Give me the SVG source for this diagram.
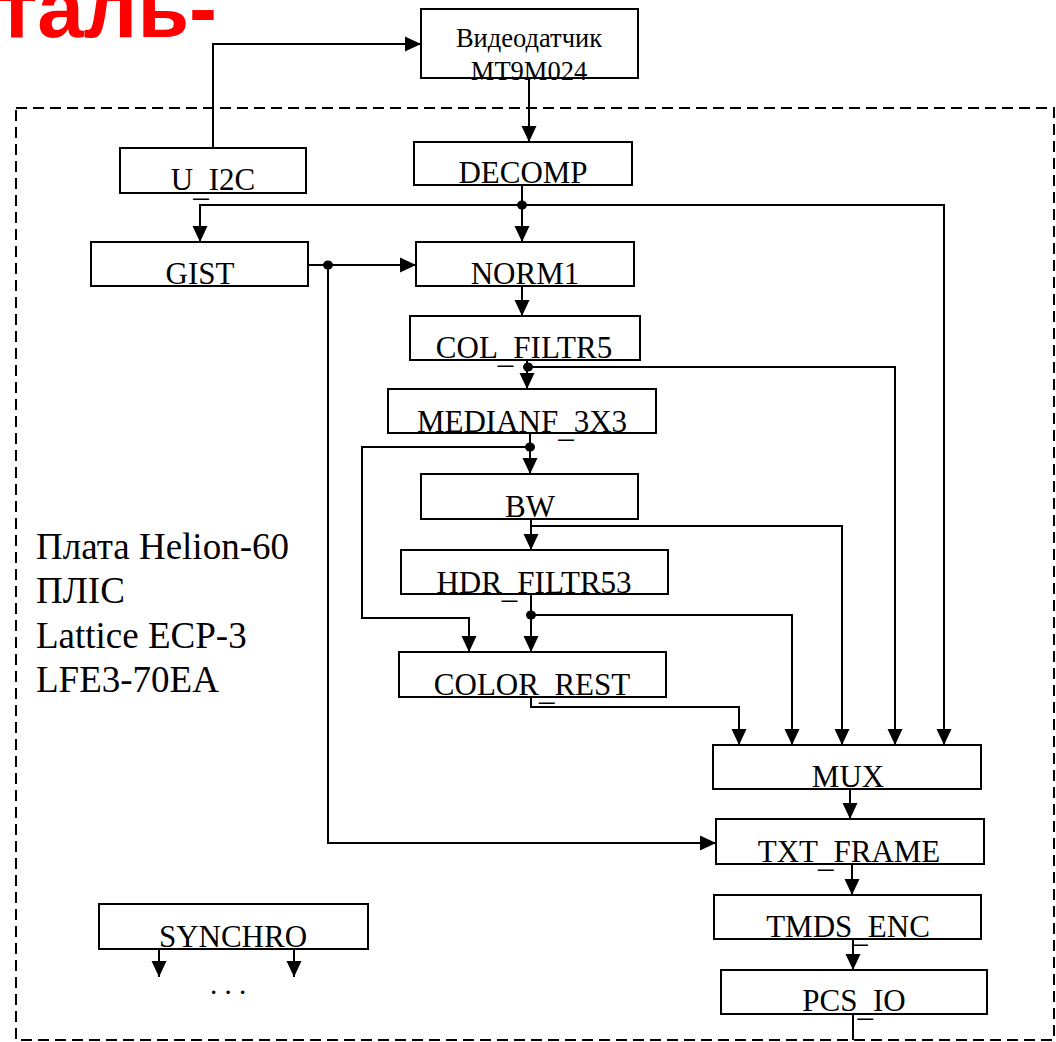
<svg xmlns="http://www.w3.org/2000/svg" width="1056" height="1042" viewBox="0 0 1056 1042">
<style>
.box{fill:#fff;stroke:#000;stroke-width:2}
.lbl{font-family:"Liberation Serif","Times New Roman",serif;font-size:31px;fill:#000;text-anchor:middle}
.sm{font-size:26.5px}
.dots{font-size:29px}
.ln{fill:none;stroke:#000;stroke-width:2}
.arr{fill:none;stroke:#000;stroke-width:2;marker-end:url(#ah)}
.side{font-family:"Liberation Serif","Times New Roman",serif;font-size:37px;fill:#000}
</style>
<defs>
<marker id="ah" markerWidth="17" markerHeight="16" refX="16" refY="8" orient="auto" markerUnits="userSpaceOnUse">
<path d="M0,0.5 L16,8 L0,15.5 Z" fill="#000"/>
</marker>
</defs>
<rect width="1056" height="1042" fill="#fff"/>
<text x="217" y="37" font-family="Liberation Sans,Arial,sans-serif" font-weight="bold" font-size="84" fill="#ff0000" text-anchor="end">таль-</text>
<rect x="16" y="108" width="1038" height="932" fill="none" stroke="#000" stroke-width="2" stroke-dasharray="11,6"/>
<g id="side-text" class="side">
<text x="36" y="559">Плата Helion-60</text>
<text x="36" y="603">ПЛІС</text>
<text x="36" y="648">Lattice ECP-3</text>
<text x="36" y="692">LFE3-70EA</text>
</g>
<g id="connectors">
<path class="arr" d="M213,148 V44 H421"/>
<path class="arr" d="M529,78 V142"/>
<path class="arr" d="M522,185 V242"/>
<path class="arr" d="M522,205 H200 V242"/>
<path class="arr" d="M522,205 H944 V745"/>
<path class="arr" d="M308,265 H416"/>
<path class="arr" d="M328,265 V843 H716"/>
<path class="arr" d="M522,286 V316"/>
<path class="arr" d="M527,360 V389"/>
<path class="arr" d="M527,367 H895 V745"/>
<path class="arr" d="M530,433 V474"/>
<path class="arr" d="M530,447 H362 V618 H469 V652"/>
<path class="arr" d="M531,519 V550"/>
<path class="arr" d="M531,526 H842 V745"/>
<path class="arr" d="M531,594 V652"/>
<path class="arr" d="M531,615 H792 V745"/>
<path class="arr" d="M531,697 V707 H739 V745"/>
<path class="arr" d="M850,789 V819"/>
<path class="arr" d="M852,864 V895"/>
<path class="arr" d="M853,939 V970"/>
<path class="ln" d="M853,1014 V1040"/>
<path class="arr" d="M159,949 V977"/>
<path class="arr" d="M294,949 V977"/>
<g fill="#000">
<ellipse cx="522" cy="205" rx="5" ry="4.5"/>
<ellipse cx="328" cy="265" rx="5" ry="4.5"/>
<ellipse cx="528" cy="367" rx="5" ry="4.5"/>
<ellipse cx="530" cy="447" rx="5" ry="4.5"/>
<ellipse cx="531" cy="615" rx="5" ry="4.5"/>
</g>
</g>
<g id="videodatchik">
<rect class="box" x="421" y="9" width="217" height="69"/>
<text class="lbl sm" x="529" y="47">Видеодатчик</text>
<text class="lbl sm" x="529" y="80">MT9M024</text>
</g>
<g id="u_i2c"><rect class="box" x="120" y="148" width="186" height="45"/><text class="lbl" x="213" y="190">U<tspan dy="6">_</tspan><tspan dy="-6">I2C</tspan></text></g>
<g id="decomp"><rect class="box" x="414" y="142" width="218" height="43"/><text class="lbl" x="523" y="183">DECOMP</text></g>
<g id="gist"><rect class="box" x="91" y="242" width="217" height="44"/><text class="lbl" x="200" y="284">GIST</text></g>
<g id="norm1"><rect class="box" x="416" y="242" width="218" height="44"/><text class="lbl" x="525" y="284">NORM1</text></g>
<g id="col_filtr5"><rect class="box" x="410" y="316" width="230" height="44"/><text class="lbl" x="524" y="358">COL<tspan dy="5">_</tspan><tspan dy="-5">FILTR5</tspan></text></g>
<g id="medianf_3x3"><rect class="box" x="388" y="389" width="268" height="44"/><text class="lbl" x="522" y="432">MEDIANF<tspan dy="5">_</tspan><tspan dy="-5">3X3</tspan></text></g>
<g id="bw"><rect class="box" x="421" y="474" width="217" height="45"/><text class="lbl" x="530" y="517">BW</text></g>
<g id="hdr_filtr53"><rect class="box" x="401" y="550" width="267" height="44"/><text class="lbl" x="534" y="593">HDR<tspan dy="5">_</tspan><tspan dy="-5">FILTR53</tspan></text></g>
<g id="color_rest"><rect class="box" x="399" y="652" width="267" height="45"/><text class="lbl" x="532" y="695">COLOR<tspan dy="5">_</tspan><tspan dy="-5">REST</tspan></text></g>
<g id="mux"><rect class="box" x="713" y="745" width="268" height="44"/><text class="lbl" x="848" y="787">MUX</text></g>
<g id="txt_frame"><rect class="box" x="716" y="819" width="268" height="45"/><text class="lbl" x="849" y="862">TXT<tspan dy="5">_</tspan><tspan dy="-5">FRAME</tspan></text></g>
<g id="tmds_enc"><rect class="box" x="714" y="895" width="267" height="44"/><text class="lbl" x="848" y="937">TMDS<tspan dy="5">_</tspan><tspan dy="-5">ENC</tspan></text></g>
<g id="pcs_io"><rect class="box" x="721" y="970" width="266" height="44"/><text class="lbl" x="854" y="1011">PCS<tspan dy="5">_</tspan><tspan dy="-5">IO</tspan></text></g>
<g id="synchro"><rect class="box" x="99" y="904" width="269" height="45"/><text class="lbl" x="233" y="947">SYNCHRO</text></g>
<text class="lbl dots" x="228" y="994">. . .</text>
</svg>
